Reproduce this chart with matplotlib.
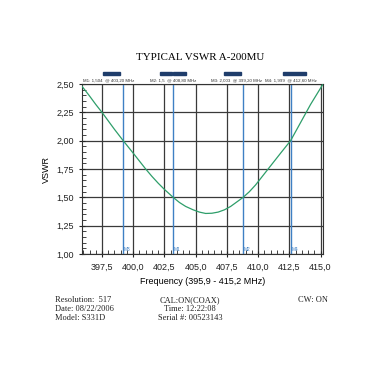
import matplotlib
matplotlib.use('Agg')
import matplotlib.pyplot as plt
from matplotlib.ticker import MultipleLocator, FuncFormatter
from matplotlib.patches import Rectangle

# curve (MHz, VSWR)
freq = [395.9, 396.5, 397.0, 397.5, 398.0, 398.5, 399.2, 400.0, 400.5, 401.0,
        401.5, 402.0, 402.5, 403.2, 403.7, 404.2, 404.8, 405.3, 405.8, 406.3,
        406.8, 407.3, 407.8, 408.3, 408.8, 409.3, 409.8, 410.3, 410.8, 411.3,
        411.8, 412.2, 412.6, 413.1, 413.7, 414.2, 414.7, 415.2]
vswr = [2.48, 2.395, 2.32, 2.25, 2.175, 2.10, 2.00, 1.89, 1.82, 1.75,
        1.685, 1.625, 1.57, 1.50, 1.455, 1.42, 1.39, 1.37, 1.358, 1.36,
        1.37, 1.39, 1.42, 1.46, 1.50, 1.55, 1.61, 1.68, 1.75, 1.82,
        1.89, 1.945, 2.00, 2.10, 2.22, 2.32, 2.41, 2.50]

marker_names = ['M1', 'M2', 'M3', 'M4']
marker_freq = [403.20, 408.80, 399.20, 412.60]
marker_text = ['M1: 1,504  @ 403,20 MHz', 'M2: 1,5  @ 408,80 MHz',
               'M3: 2,003  @ 399,20 MHz', 'M4: 1,999  @ 412,60 MHz']

fig = plt.figure(figsize=(3.82, 3.82), dpi=100)
ax = fig.add_axes([0.2147, 0.335, 0.631, 0.445])

ax.set_xlim(395.9, 415.2)
ax.set_ylim(1.0, 2.5)

ax.xaxis.set_major_locator(MultipleLocator(2.5))
ax.xaxis.set_minor_locator(MultipleLocator(0.5))
ax.yaxis.set_major_locator(MultipleLocator(0.25))
ax.yaxis.set_minor_locator(MultipleLocator(0.05))
comma = lambda fmt: FuncFormatter(lambda v, p: (fmt % v).replace('.', ','))
ax.xaxis.set_major_formatter(comma('%.1f'))
ax.yaxis.set_major_formatter(comma('%.2f'))

ax.grid(True, which='major', color='#3a3a3a', linewidth=0.9)
ax.set_axisbelow(True)
ax.tick_params(which='major', direction='inout', length=5, width=0.8,
               labelsize=6.5, colors='#222222')
ax.tick_params(which='minor', direction='in', length=3, width=0.6, colors='#222222')
for s in ax.spines.values():
    s.set_color('#333333')
    s.set_linewidth(0.8)

for name, f in zip(marker_names, marker_freq):
    ax.axvline(f, color='#3f80c4', linewidth=1.0, zorder=2)
    ax.text(f + 0.05, 1.02, name, color='#3f80c4', fontsize=3.5,
            family='Liberation Sans', va='bottom', ha='left')

ax.plot(freq, vswr, color='#2e9e6a', linewidth=0.9, zorder=3)

ax.set_xlabel('Frequency (395,9 - 415,2 MHz)', fontsize=6.5,
              family='Liberation Sans', labelpad=4)
ax.set_ylabel('VSWR', fontsize=6.5, family='Liberation Sans', labelpad=4)
for lab in ax.get_xticklabels() + ax.get_yticklabels():
    lab.set_family('Liberation Sans')

fig.text(0.523, 0.85, 'TYPICAL VSWR A-200MU', ha='center', va='center',
         fontsize=7.9, family='Liberation Serif')

# marker readout line above the plot
xs = [0.217, 0.393, 0.553, 0.694]
for x, t in zip(xs, marker_text):
    fig.text(x, 0.79, t, fontsize=3.2, family='Liberation Sans',
             color='#333333', va='center')

# dark marker bars
bars = [(103, 17), (160, 12), (173, 13), (224, 17), (283, 23)]
for x0, w in bars:
    fig.patches.append(Rectangle((x0 / 382, 1 - 75 / 382), w / 382, 3.5 / 382,
                                 transform=fig.transFigure, color='#1f3d6b'))

serif = dict(fontsize=6, family='Liberation Serif', color='#222222', va='center')
fig.text(0.144, 0.215, 'Resolution:  517', **serif)
fig.text(0.144, 0.191, 'Date: 08/22/2006', **serif)
fig.text(0.144, 0.167, 'Model: S331D', **serif)
fig.text(0.497, 0.215, 'CAL:ON(COAX)', ha='center', **serif)
fig.text(0.497, 0.191, 'Time: 12:22:08', ha='center', **serif)
fig.text(0.497, 0.167, 'Serial #: 00523143', ha='center', **serif)
fig.text(0.78, 0.215, 'CW: ON', **serif)

fig.savefig('out.png', dpi=100)
